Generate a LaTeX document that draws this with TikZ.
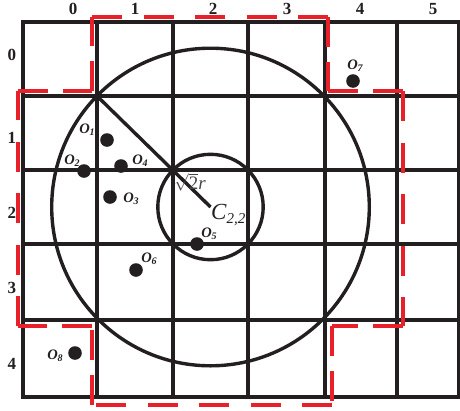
\documentclass[tikz,border=0pt]{standalone}
\usepackage{fontspec}
\setmainfont{Liberation Serif}
\definecolor{ink}{HTML}{231F20}
\definecolor{dred}{HTML}{E8202A}
\newcommand{\olab}[1]{\bfseries\itshape O\raisebox{-0.35ex}{\fontsize{10}{10}\selectfont\itshape #1}}
\begin{document}
\begin{tikzpicture}[x=1pt,y=-1pt,
  gridline/.style={line width=3.4pt, draw=ink},
  circ/.style={line width=3.4pt, draw=ink},
  dot/.style={fill=ink},
  numlab/.style={font=\fontsize{17}{17}\selectfont\bfseries, text=ink, inner sep=0pt},
  olabel/.style={font=\fontsize{14.5}{14.5}\selectfont, text=ink, inner sep=0pt},
  redA/.style={line width=3.4pt, draw=dred, dash pattern=on 30pt off 15pt},
  redB/.style={line width=3.4pt, draw=dred, dash pattern=on 30pt off 21.5pt}]
\useasboundingbox (0,0) rectangle (460,410);
% grid
\foreach \x in {97,173,248,325,397} \draw[gridline] (\x,22) -- (\x,397);
\foreach \y in {96,170,244,320} \draw[gridline] (23,\y) -- (459,\y);
\draw[gridline] (23,22) rectangle (459,397);
% circles
\coordinate (C) at (210.5,207);
\coordinate (K) at (97,96);
\draw[circ] (C) circle[radius=158.8pt];
\draw[circ] (C) circle[radius=52.7pt];
\draw[circ] (K) -- (C);
% column labels
\node[numlab] (c0) at (73,9) {0};
\node[numlab] (c1) at (135,9) {1};
\node[numlab] (c2) at (213,9) {2};
\node[numlab] (c3) at (287,9) {3};
\node[numlab] (c4) at (360,9) {4};
\node[numlab] (c5) at (433,9) {5};
% row labels
\node[numlab] (r0) at (12,55) {0};
\node[numlab] (r1) at (12,138) {1};
\node[numlab] (r2) at (12,213) {2};
\node[numlab] (r3) at (12,288) {3};
\node[numlab] (r4) at (12,364) {4};
% points
\fill[dot] (107,140) circle[radius=6.8pt] coordinate (o1);
\fill[dot] (84,171) circle[radius=6.8pt] coordinate (o2);
\fill[dot] (110,197) circle[radius=6.8pt] coordinate (o3);
\fill[dot] (121,166) circle[radius=6.8pt] coordinate (o4);
\fill[dot] (197,244) circle[radius=6.8pt] coordinate (o5);
\fill[dot] (136,270) circle[radius=6.8pt] coordinate (o6);
\fill[dot] (353,81) circle[radius=6.8pt] coordinate (o7);
\fill[dot] (75,353) circle[radius=6.8pt] coordinate (o8);
\node[olabel] (l1) at (87,130) {\olab{1}};
\node[olabel] (l2) at (72,161) {\olab{2}};
\node[olabel] (l3) at (131,199) {\olab{3}};
\node[olabel] (l4) at (140,161) {\olab{4}};
\node[olabel] (l5) at (209,234) {\olab{5}};
\node[olabel] (l6) at (149,259) {\olab{6}};
\node[olabel] (l7) at (355,66) {\olab{7}};
\node[olabel] (l8) at (55,356) {\olab{8}};
% radius label and centre label
\node[inner sep=0pt, text=black!72, font=\fontsize{19}{19}\selectfont] (rl) at (190,182) {$\sqrt{\mbox{2}}\mbox{\itshape r}$};
\node[inner sep=0pt, anchor=west, text=ink, font=\fontsize{23}{23}\selectfont\itshape] (cl) at (211,215) {C\raisebox{-0.4ex}{\fontsize{15}{15}\selectfont 2,2}};
% red dashed boundary
\coordinate (p1) at (18,91);
\coordinate (p2) at (92,91);
\coordinate (p3) at (92,17);
\coordinate (p4) at (328,17);
\coordinate (p5) at (328,91);
\coordinate (p6) at (403,91);
\coordinate (p7) at (403,326);
\coordinate (p8) at (332,326);
\coordinate (p9) at (332,405);
\coordinate (p10) at (92,405);
\coordinate (p11) at (92,326);
\coordinate (p12) at (18,326);
\draw[redA] (p1) -- (p2);
\draw[redA] (p2) -- (p3);
\draw[redB] (p3) -- (p4);
\draw[redA] (p4) -- (p5);
\draw[redA] (p5) -- (p6);
\draw[redB] (p6) -- (p7);
\draw[redA] (p7) -- (p8);
\draw[redA] (p8) -- (p9);
\draw[redB] (p9) -- (p10);
\draw[redA] (p10) -- (p11);
\draw[redA] (p11) -- (p12);
\draw[redB] (p12) -- (p1);
\end{tikzpicture}
\end{document}
